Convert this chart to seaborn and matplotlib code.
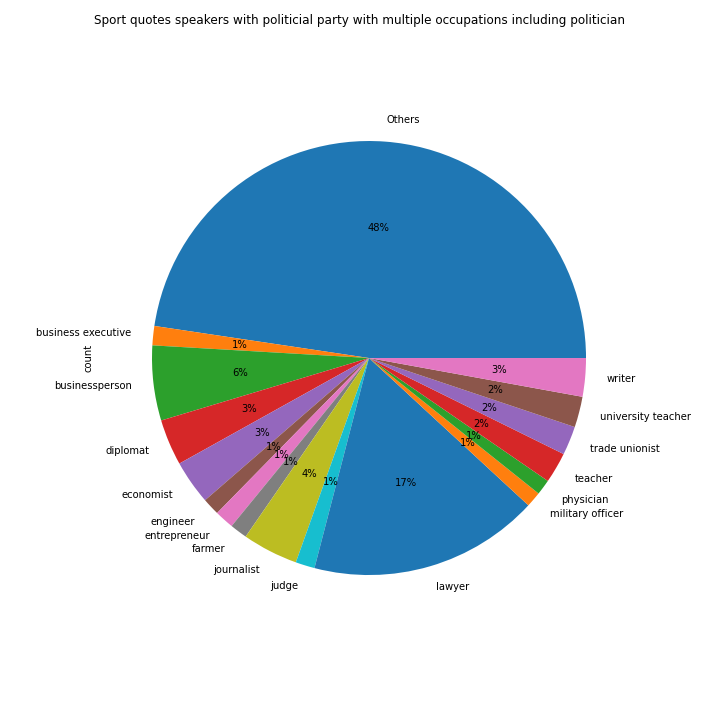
import pandas as pd
import matplotlib
matplotlib.use('Agg')
import matplotlib.pyplot as plt
import seaborn as sns

occupations = ['Others', 'business executive', 'businessperson', 'diplomat', 'economist',
               'engineer', 'entrepreneur', 'farmer', 'journalist', 'judge', 'lawyer',
               'military officer', 'physician', 'teacher', 'trade unionist',
               'university teacher', 'writer']
counts = [333, 10, 39, 24, 23, 9, 10, 9, 29, 10, 120, 8, 8, 16, 15, 16, 20]

s = pd.Series(counts, index=occupations, name='count')
colors = sns.color_palette('tab10', 10)

fig = plt.figure(figsize=(10, 10), dpi=72)
ax = s.plot.pie(autopct='%1.0f%%', colors=colors)
ax.set_position([0.125, 0.126, 0.775, 0.7535])
fig.suptitle('Sport quotes speakers with politicial party with multiple occupations including politician',
             fontsize=12)
plt.savefig('out.png', dpi=72)
